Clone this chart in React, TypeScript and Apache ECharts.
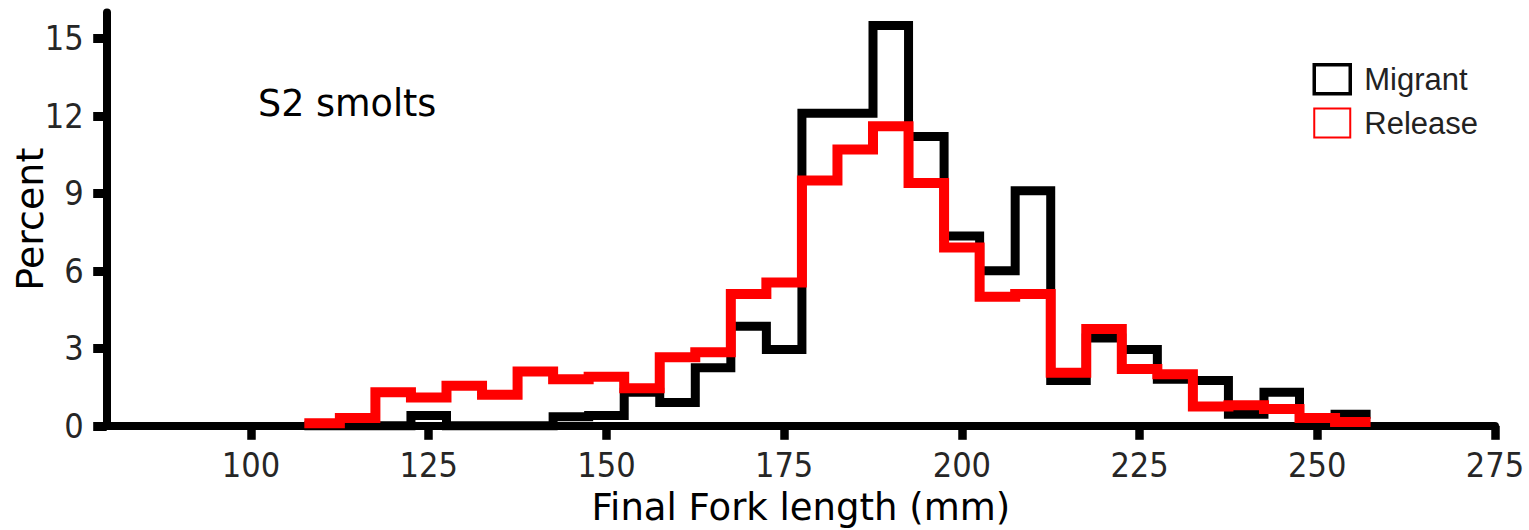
import { useEffect, useRef } from "react";
import * as echarts from "echarts";

// Histogram bins (mm, bin centres, 5 mm wide)
const binCenters = [
  110, 115, 120, 125, 130, 135, 140, 145, 150, 155,
  160, 165, 170, 175, 180, 185, 190, 195, 200, 205,
  210, 215, 220, 225, 230, 235, 240, 245, 250, 255,
];
const BIN_WIDTH = 5;

// Percent per bin
const migrant = [
  0, 0, 0, 0.4, 0, 0, 0, 0.35, 0.4, 1.3,
  0.9, 2.25, 3.85, 2.95, 12.1, 12.1, 15.5, 11.2, 7.35, 6.0,
  9.1, 1.75, 3.4, 2.95, 1.8, 1.75, 0.45, 1.3, 0.25, 0.45,
];
const release = [
  0.1, 0.3, 1.3, 1.1, 1.55, 1.2, 2.1, 1.8, 1.9, 1.45,
  2.65, 2.85, 5.1, 5.55, 9.5, 10.7, 11.6, 9.4, 6.9, 5.0,
  5.1, 2.05, 3.75, 2.2, 2.0, 0.75, 0.8, 0.65, 0.3, 0.15,
];

const xTicks = [100, 125, 150, 175, 200, 225, 250, 275];
const yTicks = [0, 3, 6, 9, 12, 15];

function toSteps(values: number[]): number[][] {
  const pts = values.map((v, i) => [binCenters[i] - BIN_WIDTH / 2, v]);
  const last = values.length - 1;
  pts.push([binCenters[last] + BIN_WIDTH / 2, values[last]]);
  return pts;
}

const labelFont = "'DejaVu Sans Condensed', 'DejaVu Sans', sans-serif";
const titleFont = "'DejaVu Sans', Verdana, sans-serif";

export default function App() {
  const ref = useRef<HTMLDivElement>(null);
  useEffect(() => {
    if (!ref.current) return;
    const chart = echarts.init(ref.current, null, { renderer: "svg" });
    chart.setOption({
      animation: false,
      backgroundColor: "#ffffff",
      grid: {
        left: 106.7,
        right: 34,
        top: 12.5,
        bottom: 104.2,
        containLabel: false,
        outerBoundsMode: "none",
      },
      legend: {
        orient: "vertical",
        left: 1312.5,
        top: 63,
        padding: 0,
        itemWidth: 36,
        itemHeight: 29,
        itemGap: 12,
        selectedMode: false,
        textStyle: {
          fontFamily: "'Liberation Sans', Arial, sans-serif",
          fontSize: 31,
          color: "#222",
          padding: [0, 0, 0, 9],
        },
        data: [
          {
            name: "Migrant",
            icon: "rect",
            itemStyle: { color: "rgba(0,0,0,0)", borderColor: "#000", borderWidth: 3.5 },
          },
          {
            name: "Release",
            icon: "rect",
            itemStyle: { color: "rgba(0,0,0,0)", borderColor: "#ff0000", borderWidth: 2 },
          },
        ],
      },
      xAxis: {
        type: "value",
        min: 79.7,
        max: 275,
        name: "Final Fork length (mm)",
        nameLocation: "middle",
        nameGap: 63,
        nameMoveOverlap: false,
        nameTextStyle: {
          fontFamily: titleFont,
          fontSize: 37,
          color: "#000",
          lineHeight: 37,
        },
        splitLine: { show: false },
        axisLine: { show: true, onZero: false, lineStyle: { color: "#000", width: 8 } },
        axisTick: {
          show: true,
          customValues: xTicks,
          length: 14,
          lineStyle: { color: "#000", width: 8.5 },
        },
        axisLabel: {
          customValues: xTicks,
          margin: 22,
          fontFamily: labelFont,
          fontSize: 34,
          lineHeight: 34,
          color: "#262626",
        },
      },
      yAxis: {
        type: "value",
        min: 0,
        max: 16,
        name: "Percent",
        nameLocation: "middle",
        nameGap: 58,
        nameMoveOverlap: false,
        nameRotate: 90,
        nameTextStyle: {
          fontFamily: titleFont,
          fontSize: 38,
          color: "#000",
          lineHeight: 38,
        },
        splitLine: { show: false },
        axisLine: { show: true, lineStyle: { color: "#000", width: 8 } },
        axisTick: {
          show: true,
          customValues: yTicks,
          length: 13.5,
          lineStyle: { color: "#000", width: 9 },
        },
        axisLabel: {
          customValues: yTicks,
          margin: 23,
          fontFamily: labelFont,
          fontSize: 34,
          lineHeight: 34,
          color: "#262626",
        },
      },
      graphic: [
        {
          type: "text",
          left: 258,
          top: 85,
          style: {
            text: "S2 smolts",
            fontFamily: titleFont,
            fontSize: 36.5,
            fill: "#000",
          },
        },
      ],
      series: [
        {
          name: "Migrant",
          type: "line",
          step: "end",
          data: toSteps(migrant),
          symbol: "none",
          clip: false,
          z: 2,
          itemStyle: { color: "#000" },
          lineStyle: { color: "#000", width: 9, cap: "butt", join: "miter" },
        },
        {
          name: "Release",
          type: "line",
          step: "end",
          data: toSteps(release),
          symbol: "none",
          clip: false,
          z: 3,
          itemStyle: { color: "#ff0000" },
          lineStyle: { color: "#ff0000", width: 10, cap: "butt", join: "miter" },
        },
      ],
    });
    return () => chart.dispose();
  }, []);
  return (
    <div
      ref={ref}
      style={{ position: "absolute", left: 0, top: 0, width: 1529, height: 530 }}
    />
  );
}
